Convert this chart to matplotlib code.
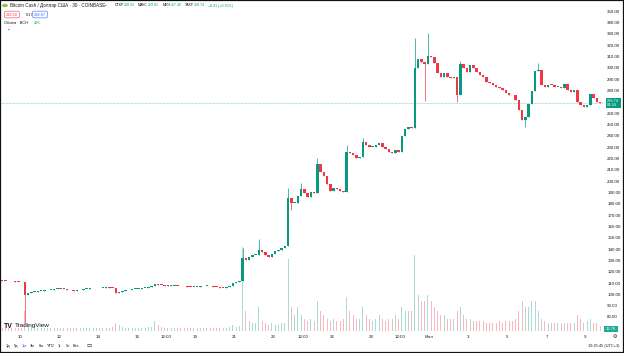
import numpy as np
import matplotlib.pyplot as plt
from matplotlib.patches import Rectangle, Circle

plt.rcParams['font.family'] = ['Liberation Sans', 'DejaVu Sans']

W, H = 624, 353
green = '#089981'
red = '#F23645'
ink = '#131722'

# 4h candles, BCH/USD, starting June 9 00:00 (x axis in "June day" units, July 1 = 31)
start_day = 9
open0 = 112.3
closes = [
    112.0, 111.8, 111.5, 111.6, 111.2, 110.8,   # 9
    110.5, 99.0, 101.0, 102.0, 102.5, 102.8,    # 10
    103.0, 103.5, 103.8, 104.2, 104.5, 104.7,   # 11
    104.5, 104.8, 104.0, 103.5, 103.2, 103.5,   # 12
    104.0, 104.5, 105.0, 105.3, 105.6, 105.2,   # 13
    105.5, 106.0, 106.3, 106.0, 105.5, 101.5,   # 14
    102.0, 102.8, 103.5, 104.0, 104.5, 104.8,   # 15
    105.0, 105.5, 106.0, 106.5, 107.0, 109.0,   # 16
    108.5, 108.0, 107.5, 107.8, 107.4, 107.5,   # 17
    107.3, 107.0, 107.2, 106.8, 106.5, 106.8,   # 18
    106.5, 107.0, 107.2, 107.4, 107.0, 106.8,   # 19
    106.5, 106.0, 105.8, 106.2, 107.5, 110.0,   # 20
    111.0, 112.0, 132.0, 130.5, 133.0, 134.5,   # 21
    135.0, 139.0, 137.0, 134.7, 133.0, 135.5,   # 22
    138.0, 139.5, 141.0, 142.5, 185.0, 181.0,   # 23
    181.0, 187.0, 193.0, 189.0, 186.0, 190.0,   # 24
    189.0, 215.0, 208.0, 204.0, 197.0, 191.0,   # 25
    194.0, 193.0, 191.0, 190.0, 226.0, 225.0,   # 26
    223.0, 220.0, 221.0, 234.0, 232.0, 230.0,   # 27
    230.0, 232.0, 233.5, 230.0, 228.0, 225.5,   # 28
    224.5, 227.0, 226.0, 240.0, 246.0, 248.0,   # 29
    247.0, 300.0, 308.0, 305.0, 303.0, 310.0,   # 30
    309.0, 304.0, 295.0, 292.0, 295.0, 292.0,   # Jul 1
    291.0, 291.5, 276.0, 303.0, 300.0, 296.0,   # 2
    302.0, 300.0, 296.0, 293.5, 292.0, 287.5,   # 3
    286.5, 285.0, 283.0, 282.0, 280.0, 277.7,   # 4
    276.0, 275.5, 271.5, 262.5, 254.0, 256.5,   # 5
    268.0, 279.0, 297.0, 298.0, 285.0, 283.0,   # 6
    285.0, 284.7, 283.0, 283.0, 282.0, 286.0,   # 7
    280.0, 278.5, 280.3, 270.0, 267.0, 265.5,   # 8
    267.0, 277.0, 273.0, 270.0, 268.74,         # 9
]
wick_high = {74: 141, 79: 149, 88: 194, 92: 198, 97: 220, 106: 232, 111: 238,
             127: 326, 131: 331, 141: 306, 165: 304}
wick_low = {7: 75, 89: 174, 130: 271, 140: 270, 161: 248}

# volume, thousand BCH
volumes = [
    1.5, 1.5, 1.5, 1.5, 1.5, 1.5,
    1.5, 10, 3, 2, 1.5, 1.5,
    1.5, 1.5, 1.5, 1.5, 1.5, 1.5,
    1.5, 1.5, 1.5, 1.5, 1.5, 1.5,
    1.5, 1.5, 1.5, 1.5, 1.5, 1.5,
    1.5, 1.5, 1.5, 1.5, 2, 4,
    3, 2, 1.5, 1.5, 1.5, 1.5,
    1.5, 1.5, 1.5, 2, 2, 5,
    3, 2, 1.5, 1.5, 1.5, 1.5,
    1.5, 1.5, 1.5, 1.5, 1.5, 1.5,
    1.5, 1.5, 1.5, 1.5, 1.5, 1.5,
    1.5, 1.5, 1.5, 1.5, 2, 3,
    2, 2.5, 42, 10, 5, 4,
    4, 12, 5, 4, 3, 4,
    3, 3, 4, 4, 36, 12,
    8, 12, 8, 6, 5, 6,
    5, 15, 10, 8, 6, 5,
    6, 5, 5, 6, 17, 10,
    8, 6, 6, 12, 8, 6,
    5, 6, 8, 6, 5, 6,
    6, 8, 6, 12, 10, 10,
    10, 38, 18, 15, 15, 18,
    15, 12, 10, 8, 8, 6,
    6, 6, 10, 12, 8, 6,
    6, 5, 5, 5, 5, 4,
    4, 4, 4, 5, 4, 5,
    5, 5, 6, 10, 15, 12,
    12, 15, 15, 10, 6, 5,
    4, 4, 4, 4, 4, 4,
    4, 4, 4, 8, 6, 4,
    5, 6, 4, 4, 2.5,
]

price_ticks = list(range(80, 360, 10))
tick_days = [10, 12, 14, 16, 17.5, 19, 21, 23, 24.5, 26, 28, 29.5, 31, 33, 35, 37, 39]
tick_labels = ['10', '12', '14', '16', '12:00', '19', '21', '23', '12:00', '26', '28',
               '12:00', 'Июл', '3', '5', '7', '9']
periods = ['1д', '5д', '1м', '3м', '6м', 'YTD', '1г', '5л', 'Все']
ohlc_head = [('ОТКР', '268.33'), ('МАКС', '269.01'), ('МИН', '267.36'), ('ЗАКР', '268.74')]
change_txt = '+0.41 (+0.15%)'


def fx(x):
    return x / W


def fy(y):
    return 1 - y / H


closes = np.array(closes)
opens = np.concatenate([[open0], closes[:-1]])
n = len(closes)
t = start_day + (np.arange(n) + 0.5) / 6
highs = np.maximum(opens, closes)
lows = np.minimum(opens, closes)
for i, v in wick_high.items():
    highs[i] = v
for i, v in wick_low.items():
    lows[i] = v
up = closes >= opens
cols = np.where(up, green, red)

fig = plt.figure(figsize=(W / 100, H / 100), dpi=100)
ax_top, ax_bot = 0, 331
ax = fig.add_axes([0, fy(ax_bot), fx(603), (ax_bot - ax_top) / H])
k = 1.1333
ax.set_ylim(80 - (ax_bot - 317) / k, 80 + 317 / k)
ax.set_xlim(10 - 20 / 19.5, 10 + 583 / 19.5)

# volume pane
axv = ax.twinx()
axv.set_ylim(0, 165)
axv.bar(t, volumes, width=0.3 / 6, color=cols, alpha=0.35, linewidth=0)
axv.axis('off')
ax.set_zorder(axv.get_zorder() + 1)
ax.patch.set_visible(False)

# candles
ax.vlines(t, lows, highs, colors=cols, linewidth=0.5)
body_h = np.maximum(np.abs(closes - opens), 0.7)
ax.bar(t, body_h, bottom=np.minimum(opens, closes), width=0.7 / 6, color=cols, linewidth=0)

last = closes[-1]
ax.axhline(last, color=green, lw=0.5, ls=(0, (1, 1)), alpha=0.6)

ax.yaxis.tick_right()
ax.set_yticks(price_ticks)
ax.set_yticklabels(['' if v == 270 else f'{v:.2f}' for v in price_ticks],
                   fontsize=3.2, color=ink)
ax.set_xticks(tick_days)
ax.set_xticklabels(tick_labels, fontsize=3.2, color=ink)
ax.tick_params(axis='both', length=0, pad=3)
for s in ax.spines.values():
    s.set_visible(False)

# last price label
ax.annotate(f'{last:.2f}\n04:34', xy=(1.0, last), xycoords=('axes fraction', 'data'),
            xytext=(3, 0), textcoords='offset points', fontsize=2.8, color='white',
            va='center', ha='left', linespacing=1.0,
            bbox=dict(boxstyle='square,pad=0.35', fc=green, ec='none'))
fig.text(fx(611), fy(329), '16.7K', fontsize=2.8, color='white', ha='center', va='center',
         bbox=dict(boxstyle='square,pad=0.35', fc='#22ab94', ec='none'))

# header
fig.patches.append(Circle((fx(5), fy(5.5)), 3 / W, transform=fig.transFigure,
                          fc='#8dc351', ec='none'))
fig.text(fx(10), fy(5.5), 'Bitcoin Cash / Доллар США · 30 · COINBASE', fontsize=3.3,
         color=ink, va='center')
fig.text(fx(105), fy(5.5), '●', fontsize=2.5, color=green, va='center')

pieces = []
for lab, val in ohlc_head:
    pieces += [(lab, ink, 2.5), (val, green, 0)]
pieces.append((change_txt, green, 2.5))
anchor = fig.text(fx(111), fy(5.5), '', fontsize=2.6, va='center')
for s, c, pad in pieces:
    anchor = ax.annotate(s, xy=(1, 0.5), xycoords=anchor, xytext=(pad, 0),
                         textcoords='offset points', fontsize=2.6, color=c,
                         va='center', ha='left', annotation_clip=False)

fig.text(fx(6), fy(14.5), '268.50', fontsize=2.8, color=red, va='center',
         bbox=dict(boxstyle='round,pad=0.35', fc='white', ec=red, lw=0.4))
fig.text(fx(26), fy(14.5), '0.17', fontsize=2.8, color=ink, va='center')
fig.text(fx(34), fy(14.5), '268.67', fontsize=2.8, color='#2962ff', va='center',
         bbox=dict(boxstyle='round,pad=0.35', fc='white', ec='#2962ff', lw=0.4))
fig.text(fx(4), fy(22.5), 'Объём · BCH', fontsize=2.8, color=ink, va='center')
fig.text(fx(34), fy(22.5), '42K', fontsize=2.8, color='#22ab94', va='center')
fig.text(fx(8), fy(30.5), '⌃', fontsize=3, color=ink, va='center', ha='center')

# logo
fig.text(fx(4), fy(326), 'TV', fontsize=5, fontweight='bold', color=ink, va='center')
fig.text(fx(15), fy(326), 'TradingView', fontsize=4.6, color=ink, va='center')

# bottom bar
xs = [8, 16, 24, 32, 41, 51, 59, 68, 76]
for x, p in zip(xs, periods):
    fig.text(fx(x), fy(346), p, fontsize=2.8, va='center', ha='center',
             color='#2962ff' if p == '1м' else ink)
fig.text(fx(89), fy(346), '▭', fontsize=4, va='center', ha='center', color=ink)
fig.text(fx(615), fy(336), '⚙', fontsize=3.5, va='center', ha='center', color=ink)
fig.text(fx(620), fy(346), '19:25:45 (UTC+3)', fontsize=2.8, va='center', ha='right',
         color=ink)

fig.patches.append(Rectangle((0, 0), 1, 1, transform=fig.transFigure, fill=False,
                             ec='#111111', lw=1.6))

fig.savefig('out.png', dpi=100)
